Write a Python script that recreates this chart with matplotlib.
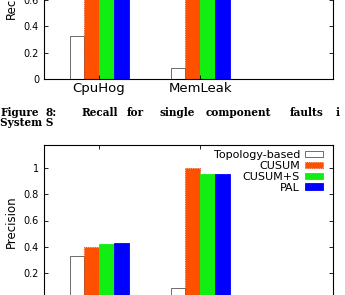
import matplotlib.pyplot as plt
import numpy as np

faults = ["CpuHog", "MemLeak"]
methods = ["Topology-based", "CUSUM", "CUSUM+S", "PAL"]
colors = ["white", "#ff5000", "#11ee11", "#0000ff"]
edges = ["#555555", "#d04000", "#11ee11", "#0000ff"]

# recall (top chart, cut off above 0.6)
recall = {
    "Topology-based": [0.33, 0.08],
    "CUSUM": [1.0, 1.0],
    "CUSUM+S": [1.0, 1.0],
    "PAL": [1.0, 1.0],
}
# precision (bottom chart)
precision = {
    "Topology-based": [0.33, 0.083],
    "CUSUM": [0.40, 1.0],
    "CUSUM+S": [0.42, 0.955],
    "PAL": [0.43, 0.955],
}
yticks = [0, 0.2, 0.4, 0.6, 0.8, 1.0]
caption1 = ["Figure", "8:", "Recall", "for", "single", "component", "faults", "i"]
caption_x = [0, 46, 81, 127, 160, 206, 290, 336]
caption2 = "System S"

W, H = 345, 295
fig = plt.figure(figsize=(W / 100, H / 100), dpi=100)


def px(x, y):
    return x / W, 1 - y / H


bw = 0.146
x = np.arange(len(faults))


def draw(ax, data, ylabel):
    for i, m in enumerate(methods):
        ls = ":" if m == "CUSUM" else "-"
        ax.bar(x + (i - 1.5) * bw, data[m], bw, color=colors[i],
               edgecolor=edges[i], linewidth=0.6, linestyle=ls, label=m)
    ax.set_xlim(-0.55, 2.32)
    ax.set_ylim(0, 1.18)
    ax.set_xticks(x)
    ax.set_xticklabels(faults, fontsize=9.5)
    ax.set_yticks(yticks)
    ax.set_yticklabels([f"{t:g}" for t in yticks], fontsize=7)
    ax.tick_params(axis="x", direction="in", length=3, width=0.6, top=True, pad=2.5)
    ax.tick_params(axis="y", direction="in", length=3, width=0.6, right=True, pad=3.2)
    for s in ax.spines.values():
        s.set_linewidth(0.8)
    ax.set_ylabel(ylabel, fontsize=8.5)
    ax.yaxis.set_label_coords(-0.088, 0.5)


l, w = 43.5 / W, 290 / W
ax1 = fig.add_axes([l, (H - 79) / H, w, 1.18 * 131.5 / H])
draw(ax1, recall, "Recall")

ax2 = fig.add_axes([l, (H - 298.8) / H, w, 1.18 * 130.5 / H])
draw(ax2, precision, "Precision")
ax2.legend(loc="upper right", bbox_to_anchor=px(323, 150), bbox_transform=fig.transFigure,
           frameon=False, markerfirst=False, fontsize=8, handlelength=1.62,
           handleheight=0.55, handletextpad=0.45, labelspacing=0.08,
           borderpad=0, borderaxespad=0)

for word, xp in zip(caption1, caption_x):
    fig.text(*px(xp, 116), word, fontfamily="DejaVu Serif", fontweight="bold",
             fontsize=7.6, va="baseline")
fig.text(*px(0, 126), caption2, fontfamily="DejaVu Serif", fontweight="bold",
         fontsize=7.6, va="baseline")

plt.savefig("out.png", dpi=100)
